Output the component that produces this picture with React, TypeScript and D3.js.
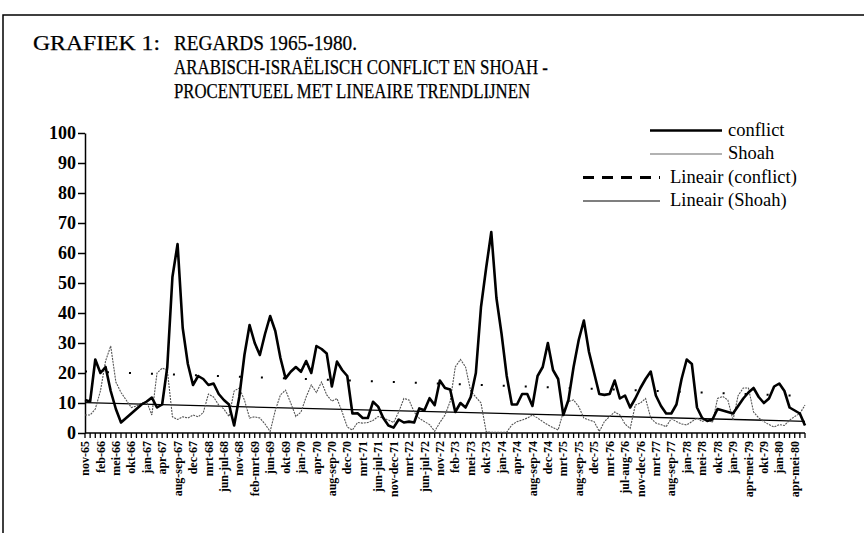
import { useRef, useEffect } from 'react';
import * as d3 from 'd3';

// one label every third issue, starting at the first one
const tickLabels = [
  'nov-65', 'feb-66', 'mei-66', 'okt-66', 'jan-67', 'apr-67', 'aug-sep-67', 'dec-67', 'mrt-68',
  'jun-jul-68', 'nov-68', 'feb-mrt-69', 'jun-69', 'okt-69', 'jan-70', 'apr-70', 'aug-sep-70',
  'dec-70', 'mrt-71', 'jun-jul-71', 'nov-dec-71', 'mrt-72', 'jun-jul-72', 'nov-72', 'feb-73',
  'mei-73', 'okt-73', 'jan-74', 'apr-74', 'aug-sep-74', 'dec-74', 'mrt-75', 'aug-sep-75',
  'dec-75', 'mrt-76', 'jul-aug-76', 'nov-dec-76', 'mrt-77', 'aug-sep-77', 'jan-78', 'mei-78',
  'okt-78', 'jan-79', 'apr-mei-79', 'okt-79', 'jan-80', 'apr-mei-80'
];
const labelEvery = 3;

const conflict = [
  11, 10.5, 24.5, 20, 22, 14, 8, 3.5, 5, 6.5, 8, 9.5, 10.5, 11.8, 8.5, 9.5, 22, 52, 63, 35,
  23, 16, 19, 18, 16, 16.5, 13, 11, 9.5, 2.5, 12, 26, 36, 30, 26, 33, 39, 34, 25, 18.2,
  20.4, 22, 20.4, 24, 20, 29, 28, 26.5, 15.5, 23.8, 21, 19, 6.5, 6.6, 5, 5, 10.4, 8.8, 5, 2.5,
  1.8, 4.5, 3.5, 3.8, 3.5, 8.2, 7.6, 11.6, 9.3, 17.5, 15, 14.5, 7, 10, 8.5, 12, 20, 42, 55, 67,
  45, 33, 19, 9.5, 9.5, 13, 13, 9, 19, 22, 30, 21, 18, 6, 11, 22, 31, 37.5, 27, 20,
  13, 12.7, 13, 17.5, 11.5, 12.5, 8.5, 11.5, 15, 18, 20.5, 12.5, 9, 6.5, 6.5, 9.5, 18, 24.5, 23, 8.5,
  5, 4, 4.5, 8, 7.5, 7, 6.5, 9, 11.5, 13.5, 15, 12, 10, 11.5, 15.5, 16.5, 14, 8.5, 7.5, 6.5,
  2.5
];

const shoah = [
  6, 6, 8, 14, 24, 29, 17, 13.5, 11, 8.5, 9, 10, 10.4, 6, 20, 21.6, 21, 5.4, 4.5, 5.4,
  5, 6, 5.4, 6.8, 13, 12, 9.3, 8, 5.5, 14, 15, 11, 5, 5.4, 5, 3, 0.5, 7.5, 12.7, 14.3,
  10, 5.5, 7, 12, 16, 13.5, 17, 12.7, 10.6, 11.5, 7, 2, 1, 3.5, 3.3, 3.5, 4.2, 5.5, 5, 4.3,
  3.5, 7, 11.5, 11, 7, 4.9, 3.8, 2.8, 0.6, 3.5, 6, 10.5, 22, 24.5, 22, 14, 12, 10, 0.5, 0.2,
  0.2, 0.2, 0.3, 2.7, 3.8, 4.3, 5, 6, 5, 3.8, 2.7, 1.8, 1, 7, 10.5, 11, 8.8, 5, 4.3, 3.8,
  0.5, 3.8, 5.5, 7, 6, 3, 1.5, 9.3, 10, 11.5, 5, 3.3, 2.8, 2.1, 4.8, 3.8, 3, 2.7, 3.8, 5,
  3.8, 4.6, 3.5, 11.5, 12.2, 11, 4.3, 12.5, 15, 15, 7, 5, 3.8, 2.8, 2, 2.8, 2.5, 4.3, 5.5, 6.5,
  9.3
];

// linear trend lines, value at first and last issue
const conflictTrend = [20.5, 12.3];
const shoahTrend = [10.1, 3.9];

const yTicks = [0, 10, 20, 30, 40, 50, 60, 70, 80, 90, 100];

const titleLines = [
  'REGARDS 1965-1980.',
  'ARABISCH-ISRAËLISCH CONFLICT EN SHOAH -',
  'PROCENTUEEL MET LINEAIRE TRENDLIJNEN'
];

const legendItems = ['conflict', 'Shoah', 'Lineair (conflict)', 'Lineair (Shoah)'];

const width = 864;
const height = 533;
const marginLeft = 85;
const marginRight = 59;
const plotTop = 133;
const plotBottom = 433;
const font = '"Liberation Serif", "Times New Roman", serif';

export default function App() {
  const gy = useRef<SVGGElement>(null);

  const x = d3.scalePoint<number>()
    .domain(d3.range(conflict.length))
    .range([marginLeft, width - marginRight]);
  const y = d3.scaleLinear([0, 100], [plotBottom, plotTop]);
  const line = d3.line<number>((d, i) => x(i) as number, y);
  const lastIndex = conflict.length - 1;
  const trend = d3.line<number>((d, i) => x(i === 0 ? 0 : lastIndex) as number, y);

  useEffect(() => {
    d3.select<SVGGElement, unknown>(gy.current as SVGGElement)
      .call(d3.axisLeft(y).tickValues(yTicks).tickSize(7).tickSizeOuter(0).tickPadding(2))
      .attr('font-family', font)
      .attr('font-size', 18)
      .attr('font-weight', 'bold')
      .call(g => g.select('.domain').attr('stroke-width', 1.5))
      .call(g => g.selectAll('.tick line').attr('stroke-width', 1.5));
  }, []);

  // legend: first two rows are shifted to the right, as in the scan
  const legendRows = [
    { x1: 650, x2: 722, tx: 728, ty: 135.5, stroke: '#000', sw: 2.6, dash: undefined },
    { x1: 650, x2: 722, tx: 728, ty: 159, stroke: '#666', sw: 1.1, dash: undefined },
    { x1: 583, x2: 660, tx: 670, ty: 182.5, stroke: '#000', sw: 3, dash: '11 8' },
    { x1: 583, x2: 660, tx: 670, ty: 206, stroke: '#000', sw: 1.2, dash: undefined }
  ];

  return (
    <svg
      width={width}
      height={height}
      style={{ position: 'absolute', left: 0, top: 0, background: '#fff' }}
      fontFamily={font}
    >
      <rect width={width} height={height} fill="#fff" />
      <path d={`M3,${height} V15 H${width}`} fill="none" stroke="#000" strokeWidth={1.5} />

      <g fontSize={21} stroke="#000" strokeWidth={0.25}>
        <text x={33} y={50} textLength={127} lengthAdjust="spacingAndGlyphs">GRAFIEK 1:</text>
        {titleLines.map((t, i) => (
          <text
            key={t}
            x={174}
            y={50 + i * 24}
            textLength={[183, 374, 356][i]}
            lengthAdjust="spacingAndGlyphs"
          >
            {t}
          </text>
        ))}
      </g>

      <g ref={gy} transform={`translate(${marginLeft},0)`} />

      {/* category axis */}
      <line x1={marginLeft} x2={width - marginRight} y1={plotBottom} y2={plotBottom} stroke="#000" strokeWidth={1.5} />
      <g stroke="#000" strokeWidth={1.3}>
        {x.domain().map(i => (
          <line key={i} x1={x(i)} x2={x(i)} y1={plotBottom} y2={plotBottom + 5} />
        ))}
      </g>
      <g fontSize={12} fontWeight="bold">
        {tickLabels.map((t, k) => {
          const px = x(k * labelEvery) as number;
          return (
            <text
              key={t + k}
              transform={`translate(${px},${plotBottom + 8}) rotate(-90)`}
              textAnchor="end"
              dy="0.35em"
            >
              {t}
            </text>
          );
        })}
      </g>

      <path d={trend(shoahTrend) as string} fill="none" stroke="#000" strokeWidth={1.3} />
      <path d={line(shoah) as string} fill="none" stroke="#555" strokeWidth={1.1} strokeDasharray="2 1" />
      <path d={trend(conflictTrend) as string} fill="none" stroke="#000" strokeWidth={2} strokeDasharray="2 20" />
      <path d={line(conflict) as string} fill="none" stroke="#000" strokeWidth={2.6} strokeLinejoin="round" />

      <g fontSize={18.5}>
        {legendItems.map((name, i) => {
          const r = legendRows[i];
          return (
            <g key={name}>
              <line
                x1={r.x1}
                x2={r.x2}
                y1={r.ty - 5}
                y2={r.ty - 5}
                stroke={r.stroke}
                strokeWidth={r.sw}
                strokeDasharray={r.dash}
              />
              <text x={r.tx} y={r.ty}>{name}</text>
            </g>
          );
        })}
      </g>
    </svg>
  );
}
